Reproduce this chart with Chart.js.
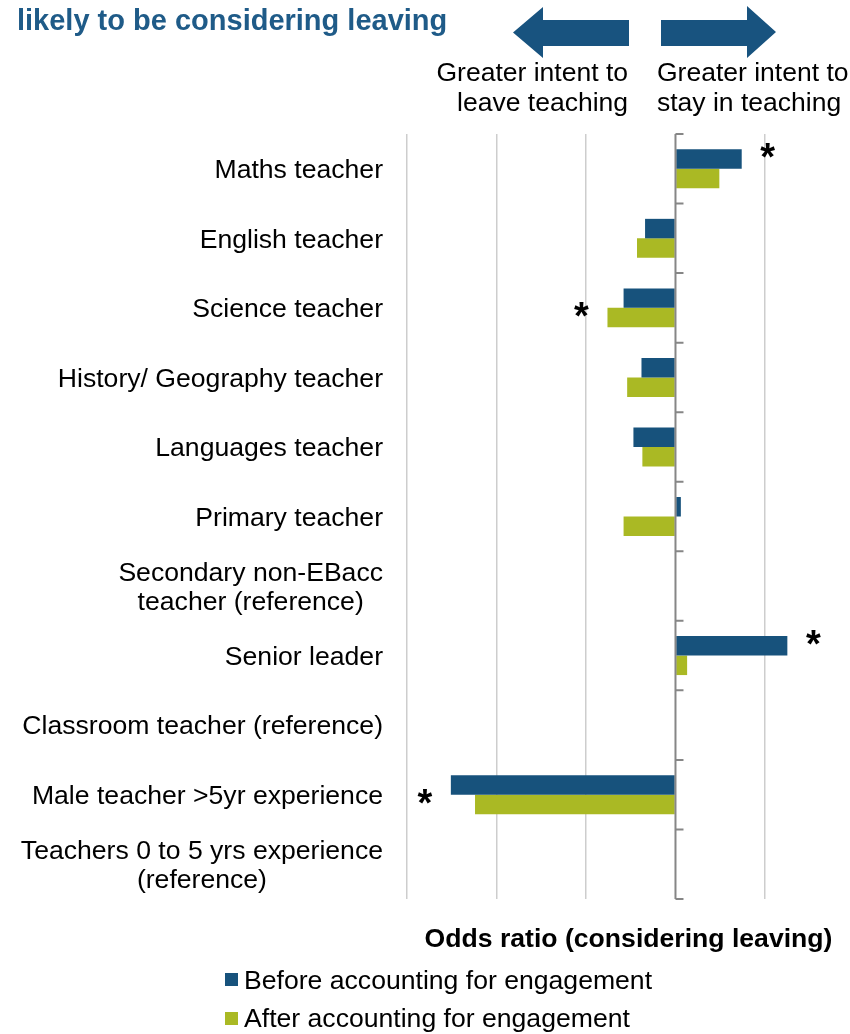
<!DOCTYPE html>
<html>
<head>
<meta charset="utf-8">
<script src="https://cdn.jsdelivr.net/npm/chart.js@4/dist/chart.umd.min.js"></script>
<style>
html,body{margin:0;padding:0;background:#fff;}
body{width:850px;height:1034px;position:relative;overflow:hidden;font-family:"Liberation Sans",Arial,sans-serif;}
#c{position:absolute;left:0;top:0;}
.ov{position:absolute;white-space:nowrap;}
.title{left:17px;top:4px;font-weight:bold;font-size:29px;line-height:33px;color:#1f5b88;}
.note{font-size:26.5px;line-height:30px;color:#000;top:57px;}
.legrow{position:absolute;left:225px;height:30px;font-size:26.6px;line-height:30px;color:#000;white-space:nowrap;}
.legrow span.sw{position:absolute;left:0;width:13px;height:13px;}
.legrow span.tx{position:absolute;left:19px;top:0;}
</style>
</head>
<body>
<canvas id="c" width="850" height="1034"></canvas>
<div class="ov title">likely to be considering leaving</div>
<svg class="ov" style="left:0;top:0" width="850" height="62">
  <polygon points="513,32.5 543,7 543,20 629,20 629,46 543,46 543,58" fill="#18537f"/>
  <polygon points="661,20 747,20 747,6 776,32 747,58 747,46 661,46" fill="#18537f"/>
</svg>
<div class="ov note" style="right:222px;text-align:right;">Greater intent to<br>leave teaching</div>
<div class="ov note" style="left:657px;text-align:left;">Greater intent to<br>stay in teaching</div>
<div id="legend"></div>
<script>
const categories = [
  "Maths teacher",
  "English teacher",
  "Science teacher",
  "History/ Geography teacher",
  "Languages teacher",
  "Primary teacher",
  ["Secondary non-EBacc", "teacher (reference)"],
  "Senior leader",
  "Classroom teacher (reference)",
  "Male teacher >5yr experience",
  ["Teachers 0 to 5 yrs experience", "(reference)"]
];
const beforeValues = [0.74, -0.34, -0.58, -0.38, -0.47, 0.06, null, 1.25, null, -2.51, null];
const afterValues  = [0.49, -0.43, -0.76, -0.54, -0.37, -0.58, null, 0.13, null, -2.24, null];
const significant  = [true, false, true, false, false, false, false, true, false, true, false];
const seriesNames  = ["Before accounting for engagement", "After accounting for engagement"];
const seriesColors = ["#17527c", "#aab924"];
const xMin = -3, xMax = 1.95;

const FAMILY = '"Liberation Sans", Arial, sans-serif';

const axisPlugin = {
  id: 'zeroAxis',
  afterDatasetsDraw(chart) {
    const ctx = chart.ctx, xs = chart.scales.x, ys = chart.scales.y;
    const x0 = xs.getPixelForValue(0);
    const {top, bottom} = chart.chartArea;
    ctx.save();
    ctx.strokeStyle = '#868686';
    ctx.lineWidth = 2;
    ctx.beginPath();
    ctx.moveTo(x0, top); ctx.lineTo(x0, bottom);
    for (let i = 0; i <= categories.length; i++) {
      const y = ys.getPixelForValue(i - 0.5);
      ctx.moveTo(x0, y); ctx.lineTo(x0 + 8, y);
    }
    ctx.stroke();
    // significance stars
    ctx.fillStyle = '#000';
    ctx.font = 'bold 38px ' + FAMILY;
    ctx.textAlign = 'center';
    ctx.textBaseline = 'middle';
    categories.forEach((_, i) => {
      if (!significant[i]) return;
      const vals = chart.data.datasets.map(d => d.data[i] == null ? 0 : d.data[i]);
      const ext = vals.reduce((a, b) => Math.abs(b) > Math.abs(a) ? b : a, 0);
      const sign = ext >= 0 ? 1 : -1;
      const x = xs.getPixelForValue(ext) + sign * 26;
      const y = ys.getPixelForValue(i) + (sign > 0 ? -17 : 3);
      ctx.fillText('*', x, y + 8);
    });
    ctx.restore();
  },
  afterDraw(chart) {
    const ctx = chart.ctx, ys = chart.scales.y;
    ctx.save();
    ctx.font = '26.6px ' + FAMILY;
    ctx.fillStyle = '#000';
    ctx.textAlign = 'center';
    ctx.textBaseline = 'middle';
    const right = chart.chartArea.left - 24;
    const lh = 29;
    chart.data.labels.forEach((lab, i) => {
      const lines = Array.isArray(lab) ? lab : [lab];
      const w = Math.max(...lines.map(l => ctx.measureText(l).width));
      const cx = right - w / 2;
      const cy = ys.getPixelForValue(i) + 2;
      lines.forEach((l, j) => ctx.fillText(l, cx, cy + (j - (lines.length - 1) / 2) * lh));
    });
    ctx.restore();
  }
};

const chart = new Chart(document.getElementById('c'), {
  type: 'bar',
  data: {
    labels: categories,
    datasets: [
      { label: seriesNames[0], data: beforeValues, backgroundColor: seriesColors[0], borderWidth: 0 },
      { label: seriesNames[1], data: afterValues, backgroundColor: seriesColors[1], borderWidth: 0 }
    ]
  },
  options: {
    indexAxis: 'y',
    responsive: false,
    animation: false,
    categoryPercentage: 0.56,
    barPercentage: 1.0,
    layout: { padding: { top: 134, bottom: 78, left: 0, right: 0 } },
    plugins: { legend: { display: false }, tooltip: { enabled: false } },
    scales: {
      x: {
        min: xMin, max: xMax,
        afterBuildTicks: s => { s.ticks = s.ticks.filter(t => Number.isInteger(t.value)); },
        ticks: { display: false, stepSize: 1 },
        grid: {
          color: c => (c.tick && c.tick.value === 0) ? 'rgba(0,0,0,0)' : '#cdcdcd',
          lineWidth: 1.5,
          drawTicks: false
        },
        border: { display: false },
        title: {
          display: true,
          text: 'Odds ratio (considering leaving)',
          color: '#000',
          font: { size: 26.6, weight: 'bold', family: FAMILY },
          padding: { top: 0, bottom: 0 }
        },
        afterFit: s => { s.height = 57; }
      },
      y: {
        ticks: { display: false },
        grid: { display: false },
        border: { display: false },
        afterFit: s => { s.width = 407; }
      }
    }
  },
  plugins: [axisPlugin]
});

// legend rows built from the chart's datasets
const leg = document.getElementById('legend');
const rowTops = [965, 1003];
chart.data.datasets.forEach((d, i) => {
  const row = document.createElement('div');
  row.className = 'legrow';
  row.style.top = rowTops[i] + 'px';
  const sw = document.createElement('span');
  sw.className = 'sw';
  sw.style.background = d.backgroundColor;
  sw.style.top = (i === 0 ? 8 : 9) + 'px';
  const tx = document.createElement('span');
  tx.className = 'tx';
  tx.textContent = d.label;
  row.appendChild(sw); row.appendChild(tx);
  leg.appendChild(row);
});
</script>
</body>
</html>
